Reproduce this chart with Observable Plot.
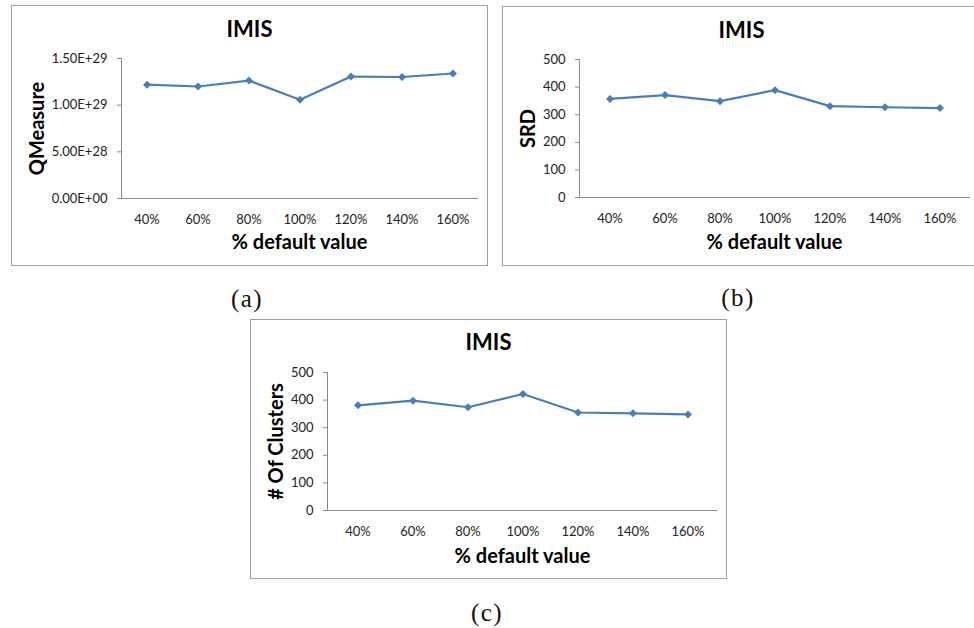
<!DOCTYPE html>
<html>
<head>
<meta charset="utf-8">
<script src="https://cdn.jsdelivr.net/npm/d3@7"></script>
<script src="https://cdn.jsdelivr.net/npm/@observablehq/plot@0.6"></script>
<style>
  html, body { margin: 0; padding: 0; background: #fff; }
  #page { position: relative; width: 974px; height: 628px; overflow: hidden; background: #fff; }
  .box { position: absolute; box-sizing: border-box; border: 1px solid #a0a0a0; }
  .chart { position: absolute; }
  .cap { position: absolute; font-family: "Liberation Serif", "DejaVu Serif", serif; font-size: 25px; letter-spacing: 1.5px; color: #111; transform: translate(-50%, -50%); white-space: nowrap; line-height: 1; }
</style>
</head>
<body>
<div id="page"></div>
<script>
// ---- data ----
const categories = ["40%", "60%", "80%", "100%", "120%", "140%", "160%"];
const qmeasure = [1.22e29, 1.20e29, 1.263e29, 1.059e29, 1.306e29, 1.302e29, 1.339e29];
const srd = [357, 371, 349, 389, 331, 327, 324];
const clusters = [381, 398, 374, 422, 355, 352, 348];
const qTicks = [0, 5e28, 1e29, 1.5e29];
const qTickLabels = ["0.00E+00", "5.00E+28", "1.00E+29", "1.50E+29"];
const countTicks = [0, 100, 200, 300, 400, 500];
const countTickLabels = ["0", "100", "200", "300", "400", "500"];
const chartTitle = "IMIS";
const xLabel = "% default value";

const page = document.getElementById("page");
const LINE = "#4A7EBB";
const AXIS = "#8a8a8a";
const FONT = "Lato, 'Open Sans', sans-serif";

function panel(cfg) {
  const data = categories.map((c, i) => ({cat: c, v: cfg.values[i]}));
  const box = document.createElement("div");
  box.className = "box";
  Object.assign(box.style, {left: cfg.left + "px", top: cfg.top + "px", width: cfg.width + "px", height: cfg.height + "px"});
  page.appendChild(box);

  const fw = cfg.width - cfg.ml - cfg.mr;
  const frameCx = cfg.ml + fw / 2;
  const chart = Plot.plot({
    width: cfg.width,
    height: cfg.height,
    marginLeft: cfg.ml,
    marginRight: cfg.mr,
    marginTop: cfg.mt,
    marginBottom: cfg.mb,
    style: {fontFamily: FONT, fontSize: "13px", color: "#222", background: "transparent", overflow: "visible"},
    x: {type: "band", domain: categories, padding: 0},
    y: {domain: [0, cfg.ticks[cfg.ticks.length - 1]]},
    marks: [
      Plot.frame({anchor: "left", stroke: AXIS}),
      Plot.ruleY([0], {stroke: AXIS}),
      Plot.axisY(cfg.ticks, {tickSize: 4, tickPadding: 10, stroke: AXIS, tickFormat: (d) => cfg.tickLabels[cfg.ticks.indexOf(d)], label: null, fill: "#222"}),
      Plot.axisX({tickSize: 0, tickPadding: 16, label: null, fill: "#222"}),
      Plot.line(data, {x: "cat", y: "v", stroke: LINE, strokeWidth: 2.2}),
      Plot.dot(data, {x: "cat", y: "v", symbol: "diamond2", r: 3.6, fill: LINE, stroke: "none"}),
      Plot.text([chartTitle], {frameAnchor: "top", lineAnchor: "middle", textAnchor: "middle", dx: cfg.titleX - cfg.left - frameCx, dy: cfg.titleY - cfg.top - cfg.mt, fontSize: 22, fontWeight: "bold", fill: "#000"}),
      Plot.text([cfg.yLabel], {frameAnchor: "left", lineAnchor: "middle", textAnchor: "middle", rotate: -90, dx: cfg.yLabelX - cfg.left - cfg.ml, fontSize: 20, fontWeight: "bold", fill: "#000"}),
      Plot.text([xLabel], {frameAnchor: "bottom", lineAnchor: "middle", textAnchor: "middle", dx: cfg.xLabelX - cfg.left - frameCx, dy: cfg.xLabelY - (cfg.top + cfg.height - cfg.mb), fontSize: 20, fontWeight: "bold", fill: "#000"})
    ]
  });
  chart.classList.add("chart");
  Object.assign(chart.style, {left: cfg.left + "px", top: cfg.top + "px"});
  page.appendChild(chart);

  const cap = document.createElement("div");
  cap.className = "cap";
  cap.textContent = cfg.caption;
  Object.assign(cap.style, {left: cfg.capX + "px", top: cfg.capY + "px"});
  page.appendChild(cap);
}

panel({left: 11, top: 5, width: 477, height: 261, ml: 110, mr: 10, mt: 53, mb: 68,
  values: qmeasure, ticks: qTicks, tickLabels: qTickLabels, yLabel: "QMeasure",
  titleX: 249, titleY: 29, yLabelX: 37, xLabelX: 299, xLabelY: 242, caption: "(a)", capX: 247, capY: 298});

panel({left: 502, top: 6, width: 474, height: 260, ml: 77, mr: 6, mt: 53, mb: 69,
  values: srd, ticks: countTicks, tickLabels: countTickLabels, yLabel: "SRD",
  titleX: 741, titleY: 30, yLabelX: 528, xLabelX: 774, xLabelY: 242, caption: "(b)", capX: 738, capY: 297});

panel({left: 250, top: 319, width: 477, height: 260, ml: 77, mr: 10, mt: 53, mb: 69,
  values: clusters, ticks: countTicks, tickLabels: countTickLabels, yLabel: "# Of Clusters",
  titleX: 488, titleY: 342, yLabelX: 276, xLabelX: 522, xLabelY: 556, caption: "(c)", capX: 487, capY: 612});
</script>
</body>
</html>
